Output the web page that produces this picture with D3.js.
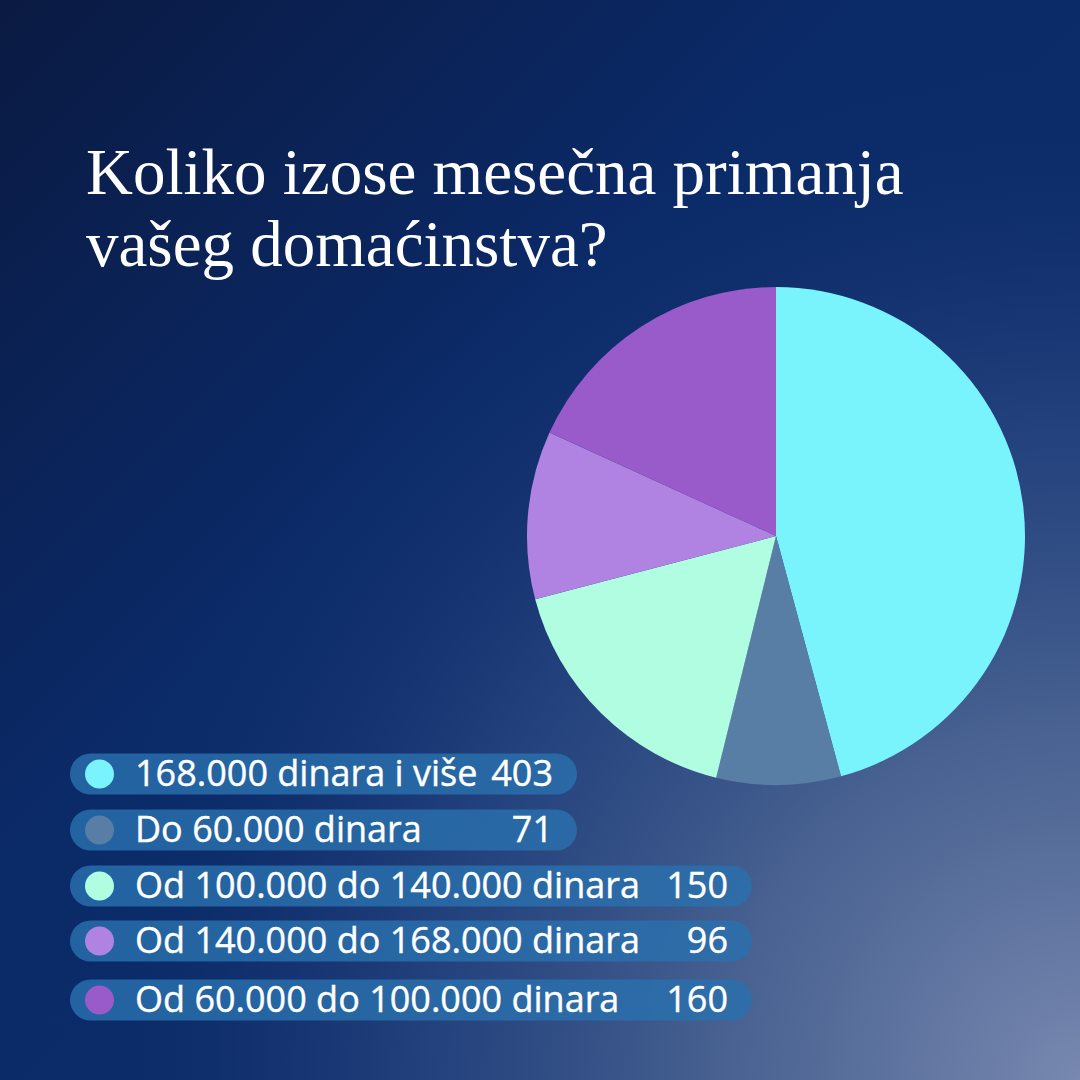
<!DOCTYPE html>
<html>
<head>
<meta charset="utf-8">
<script src="https://cdnjs.cloudflare.com/ajax/libs/d3/7.8.5/d3.min.js"></script>
<style>
  html, body { margin: 0; padding: 0; background: #0b2257; }
  svg { display: block; }
</style>
</head>
<body>
<div id="chart"></div>
<script>
// data
var categories = ["168.000 dinara i više", "Do 60.000 dinara", "Od 100.000 do 140.000 dinara", "Od 140.000 do 168.000 dinara", "Od 60.000 do 100.000 dinara"];
var values = [403, 71, 150, 96, 160];
var colors = ["#79f4fd", "#587ea6", "#b1fde1", "#b083e2", "#9a5bca"];
var titleLines = ["Koliko izose mesečna primanja", "vašeg domaćinstva?"];

var width = 1080, height = 1080;
var svg = d3.select("#chart").append("svg")
  .attr("width", width).attr("height", height);

// background: dark navy base + light glow from bottom-right corner
var defs = svg.append("defs");
var lin = defs.append("linearGradient").attr("id", "bg")
  .attr("x1", "0").attr("y1", "0").attr("x2", "1").attr("y2", "1");
lin.append("stop").attr("offset", "0").attr("stop-color", "#0a1a42");
lin.append("stop").attr("offset", "0.4").attr("stop-color", "#0b2a68");
lin.append("stop").attr("offset", "1").attr("stop-color", "#0c2b6a");

var rad = defs.append("radialGradient").attr("id", "glow")
  .attr("gradientUnits", "userSpaceOnUse")
  .attr("cx", 1080).attr("cy", 1080).attr("r", 1020);
rad.append("stop").attr("offset", "0").attr("stop-color", "#7888b0").attr("stop-opacity", 1);
rad.append("stop").attr("offset", "0.35").attr("stop-color", "#4d6694").attr("stop-opacity", 0.92);
rad.append("stop").attr("offset", "0.65").attr("stop-color", "#2e4c86").attr("stop-opacity", 0.65);
rad.append("stop").attr("offset", "1").attr("stop-color", "#0c2b6a").attr("stop-opacity", 0);

svg.append("rect").attr("width", width).attr("height", height).attr("fill", "url(#bg)");
svg.append("rect").attr("width", width).attr("height", height).attr("fill", "url(#glow)");

// title
svg.append("g").selectAll("text").data(titleLines).enter().append("text")
  .attr("x", 86)
  .attr("y", function(d, i) { return 194 + i * 72; })
  .attr("font-family", "'Liberation Serif', 'DejaVu Serif', serif")
  .attr("font-size", 65)
  .attr("fill", "#ffffff")
  .text(function(d) { return d; });

// pie
var pie = d3.pie().sort(null).value(function(d) { return d; });
var arc = d3.arc().innerRadius(0).outerRadius(249);
svg.append("g").attr("transform", "translate(776,536)")
  .selectAll("path").data(pie(values)).enter().append("path")
  .attr("d", arc)
  .attr("fill", function(d, i) { return colors[i]; });

// legend
var rowY = [774, 830, 886, 941, 1000];
var pillRight = [577, 577, 752, 752, 752];
var legend = svg.append("g").selectAll("g").data(categories).enter().append("g")
  .attr("transform", function(d, i) { return "translate(0," + rowY[i] + ")"; });

legend.append("rect")
  .attr("x", 70).attr("y", -20.5)
  .attr("width", function(d, i) { return pillRight[i] - 70; })
  .attr("height", 41).attr("rx", 20.5)
  .attr("fill", "#2a70ad").attr("fill-opacity", 0.82);

legend.append("circle")
  .attr("cx", 99.5).attr("cy", 0).attr("r", 14.5)
  .attr("fill", function(d, i) { return colors[i]; });

legend.append("text")
  .attr("x", 135).attr("y", 11.5)
  .attr("font-family", "'Open Sans', sans-serif")
  .attr("font-size", 36)
  .attr("fill", "#ffffff")
  .attr("stroke", "#ffffff").attr("stroke-width", 0.4)
  .text(function(d) { return d; });

legend.append("text")
  .attr("x", function(d, i) { return pillRight[i] - 24; }).attr("y", 11.5)
  .attr("text-anchor", "end")
  .attr("font-family", "'Open Sans', sans-serif")
  .attr("font-size", 36)
  .attr("fill", "#ffffff")
  .attr("stroke", "#ffffff").attr("stroke-width", 0.4)
  .text(function(d, i) { return values[i]; });
</script>
</body>
</html>
